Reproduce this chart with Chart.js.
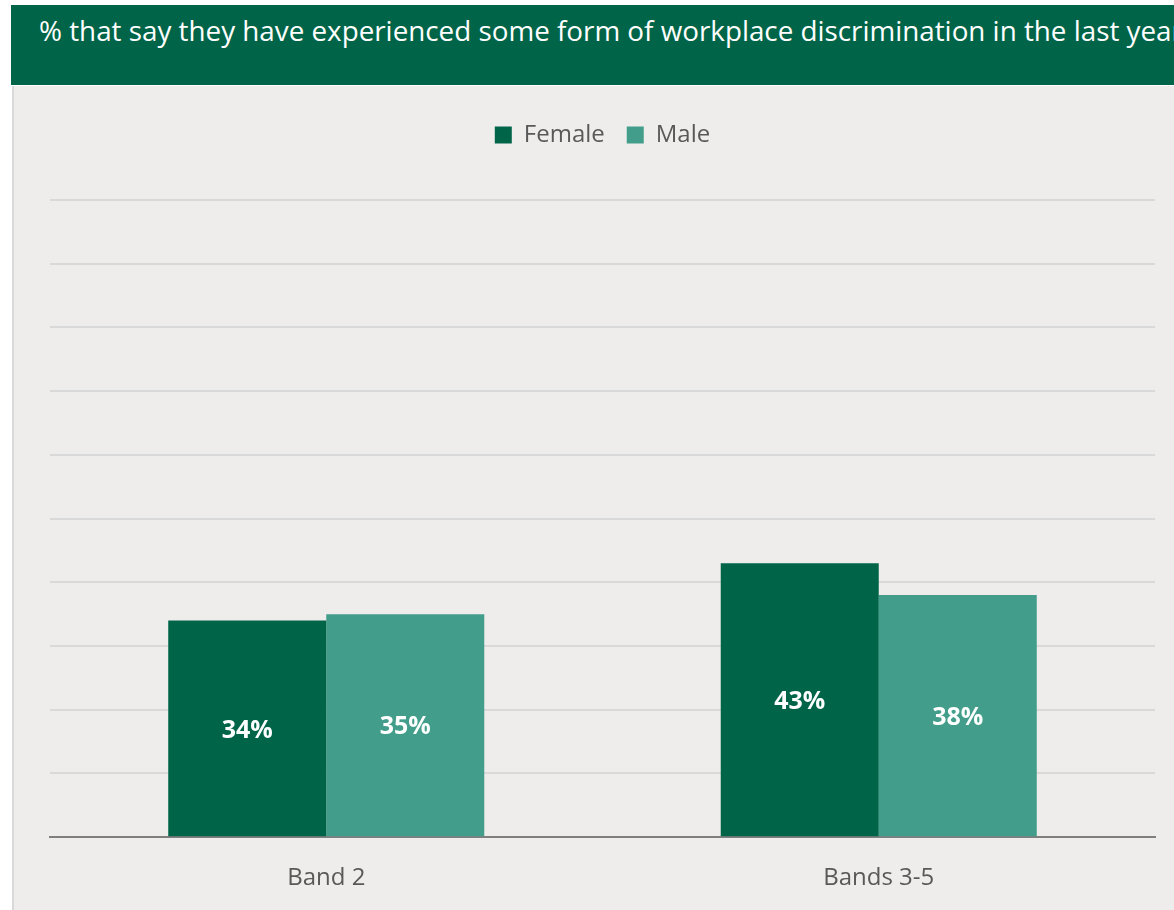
<!DOCTYPE html>
<html>
<head>
<meta charset="utf-8">
<script src="https://cdn.jsdelivr.net/npm/chart.js@4"></script>
<style>
  html, body { margin: 0; padding: 0; background: #ffffff; overflow: hidden; width: 1174px; height: 910px; }
  #title {
    position: absolute; left: 11px; top: 5px; width: 1200px; height: 80px;
    background: #006548; color: #ffffff;
    font-family: "Open Sans", sans-serif; font-size: 27.8px;
    white-space: nowrap; box-sizing: border-box; padding: 6px 0 0 28px;
  }
  #panel {
    position: absolute; left: 12px; top: 86px; width: 1200px; height: 860px;
    background: #efedeb; border-left: 2px solid #d9d9d9;
  }
  #wrap { position: absolute; left: 0; top: 0; width: 1160px; height: 854px; }
</style>
</head>
<body>
<div id="title">% that say they have experienced some form of workplace discrimination in the last year</div>
<div id="panel"><div id="wrap"><canvas id="c"></canvas></div></div>
<script>
const categories = ["Band 2", "Bands 3-5"];
const female = [34, 43];
const male = [35, 38];
const yTicks = [0, 10, 20, 30, 40, 50, 60, 70, 80, 90, 100];

// Writes each bar's value in the middle of the bar
const barValueLabels = {
  id: "barValueLabels",
  afterDatasetsDraw(chart) {
    const ctx = chart.ctx;
    ctx.save();
    ctx.font = "bold 25px 'Open Sans', sans-serif";
    ctx.fillStyle = "#ffffff";
    ctx.textAlign = "center";
    ctx.textBaseline = "middle";
    chart.data.datasets.forEach((ds, i) => {
      chart.getDatasetMeta(i).data.forEach((bar, j) => {
        const mid = (bar.y + bar.base) / 2;
        ctx.fillText(ds.data[j] + "%", bar.x, mid + 2);
      });
    });
    ctx.restore();
  }
};

// Leaves extra room between the legend and the plot area
const legendGap = {
  id: "legendGap",
  beforeInit(chart) {
    const fit = chart.legend.fit;
    chart.legend.fit = function () {
      fit.call(this);
      this.height += 43;
    };
  }
};

new Chart(document.getElementById("c"), {
  type: "bar",
  data: {
    labels: categories,
    datasets: [
      { label: "Female", data: female, backgroundColor: "#006548" },
      { label: "Male", data: male, backgroundColor: "#429e8a" }
    ]
  },
  options: {
    responsive: true,
    maintainAspectRatio: false,
    animation: false,
    layout: { padding: { left: 36, right: 19, top: 15, bottom: 20 } },
    datasets: { bar: { categoryPercentage: 0.572, barPercentage: 1.0 } },
    plugins: {
      legend: {
        position: "top",
        labels: {
          boxWidth: 17, boxHeight: 17, padding: 22,
          color: "#595959",
          font: { family: "'Open Sans', sans-serif", size: 24 }
        }
      },
      tooltip: { enabled: false }
    },
    scales: {
      x: {
        grid: { display: false, drawTicks: false },
        border: { display: true, color: "#7f7f7f", width: 2 },
        ticks: {
          color: "#595959", padding: 27,
          font: { family: "'Open Sans', sans-serif", size: 24 }
        }
      },
      y: {
        min: 0, max: 100,
        afterBuildTicks(axis) { axis.ticks = yTicks.map(v => ({ value: v })); },
        grid: { color: "#d9d9d9", lineWidth: 2, drawTicks: false },
        border: { display: false },
        ticks: { display: false }
      }
    }
  },
  plugins: [barValueLabels, legendGap]
});
</script>
</body>
</html>
